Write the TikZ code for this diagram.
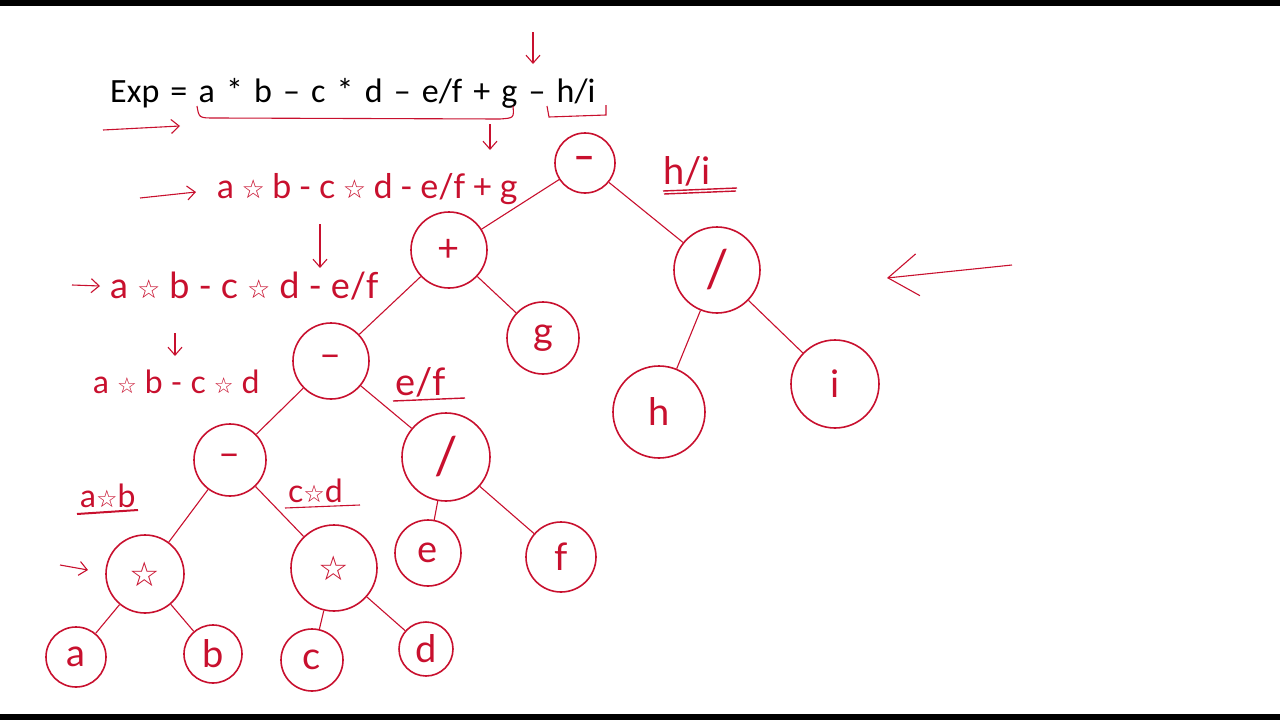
\documentclass[tikz,border=0pt]{standalone}
\usepackage{fontspec}
\setmainfont{Carlito}
\newfontfamily\expfont[WordSpace=1.45]{Carlito}
\newfontfamily\handfont{Lato}
\newfontfamily\symfont{DejaVu Sans}
\usetikzlibrary{arrows.meta}

\definecolor{ink}{RGB}{200,16,46}
\newcommand\hstar[1][26]{{\symfont\fontsize{#1}{#1}\selectfont ☆}}

\tikzset{exptree/.style = {every node/.style = {minimum size = #1, circle, draw = ink, text = ink,
                                               line width = 1.6pt, inner sep = 0pt,
                                               font = \handfont\fontsize{38}{38}\selectfont},
                           edge from parent/.style = {draw = ink, line width = 1.1pt},
                           level 1/.style={level distance=95pt, sibling distance=270pt},
                           level 2/.style={level distance=110pt, sibling distance=200pt},
                           level 3/.style={level distance=100pt, sibling distance=216pt},
                           level 4/.style={level distance=110pt, sibling distance=190pt},
                           level 5/.style={level distance=85pt, sibling distance=136pt},
                          },
         exptree/.default=72pt,
         bigsym/.style = {font = \handfont\fontsize{52}{52}\selectfont},
         penarrow/.style = {draw = ink, line width = 1.1pt, -{Straight Barb[length=8pt, width=14pt]}},
         note/.style = {text = ink, anchor = base west, inner sep = 0pt,
                        font = \handfont\fontsize{#1}{#1}\selectfont},
         note/.default = 32
        }

\begin{document}
\begin{tikzpicture}[x=1pt, y=-1pt]
  \useasboundingbox (0,0) rectangle (1280,720);
  \fill[black] (0,0) rectangle (1280,6);
  \fill[black] (0,714) rectangle (1280,720);

  \node (exp) [anchor = base west, inner sep = 0pt, font = \expfont\fontsize{34}{34}\selectfont] at (110,102)
        {Exp = a * b – c * d – e/f + g – h/i};

  % the expression tree
  \begin{scope}[exptree]
    \node (root) [minimum size = 60pt] at (585,163) {\bfseries –}
    child[xshift=-1pt, yshift=8pt] {node (plus) [minimum size = 76pt] {+}
           child[xshift=-18pt, yshift=-1pt] {node (sub2) [minimum size = 76pt] {–}
                  child[xshift=7pt, yshift=1pt] {node (sub3) {–}
                         child[xshift=10pt, yshift=-4pt] {node (mulL) [minimum size = 78pt] {\hstar[34]}
                                child[xshift=-1pt, yshift=2pt] {node (a) [minimum size = 60pt] {a}}
                                child[yshift=5pt] {node (b) [minimum size = 58pt] {b}}
                               }
                         child[xshift=9pt, yshift=2pt] {node (mulR) [minimum size = 86pt] {\hstar[34]}
                                child[xshift=46pt, yshift=-7pt] {node (c) [minimum size = 62pt] {c}}
                                child[xshift=24pt, yshift=4pt] {node (d) [minimum size = 54pt] {d}}
                               }
                        }
                  child[xshift=7pt, yshift=4pt] {node (divL) [minimum size = 88pt, bigsym] {/}
                         child[xshift=77pt, yshift=14pt] {node (e) [minimum size = 66pt] {e}}
                         child[xshift=20pt, yshift=10pt] {node (f) [minimum size = 70pt] {f}}
                        }
                 }
           child[xshift=-6pt, yshift=22pt] {node (g) {g}}
          }
    child[xshift=-3pt, yshift=-12pt] {node (divR) [minimum size = 86pt, bigsym] {/}
           child[xshift=42pt, yshift=-32pt] {node (h) [minimum size = 92pt] {h}}
           child[xshift=18pt, yshift=-4pt] {node (i) [minimum size = 88pt] {i}}
          };
  \end{scope}

  % splitting steps
  \node (step1) [note = 34] at (217,198) {\spaceskip=7.5pt a \hstar{} b - c \hstar{} d - e/f + g};
  \node (step2) [note = 36] at (110,298) {\spaceskip=9pt a \hstar{} b - c \hstar{} d - e/f};
  \node (step3) [note = 32] at (93,393) {\spaceskip=8pt a \hstar[22] b - c \hstar[22] d};
  \node (hi) [note = 38] at (663,184) {h/i};
  \node (ef) [note = 38] at (395,395) {e/f};
  \node (ab) [note = 32] at (80,507) {a\hstar[24]b};
  \node (cd) [note = 32] at (288,502) {c\hstar[24]d};

  \draw[penarrow] (533,32) -- (533,64);
  \draw[penarrow] (103,130) -- (180,126);
  \draw[penarrow] (490,124) -- (490,150);
  \draw[penarrow] (140,198) -- (196,192);
  \draw[penarrow] (320,224) -- (320,268);
  \draw[penarrow] (72,285) -- (100,286);
  \draw[penarrow] (175,333) -- (175,356);
  \draw[penarrow] (60,565) -- (88,570);
  \draw[draw = ink, line width = 1.1pt, -{Straight Barb[length=30pt, width=42pt]}] (1012,265) -- (887,278);

  \draw[ink, line width = 1.1pt] (197,106) .. controls (199,118) .. (215,118) -- (500,119) .. controls (514,118) .. (513,106);
  \draw[ink, line width = 1.1pt] (547,106) -- (549,117) -- (606,115) -- (606,105);
  \draw[ink, line width = 1.4pt] (663,191) -- (737,188) (664,194) -- (736,191);
  \draw[ink, line width = 1.4pt] (393,401) -- (465,398);
  \draw[ink, line width = 2pt] (77,514) -- (138,510);
  \draw[ink, line width = 1.1pt] (285,508) -- (360,505);
\end{tikzpicture}
\end{document}
